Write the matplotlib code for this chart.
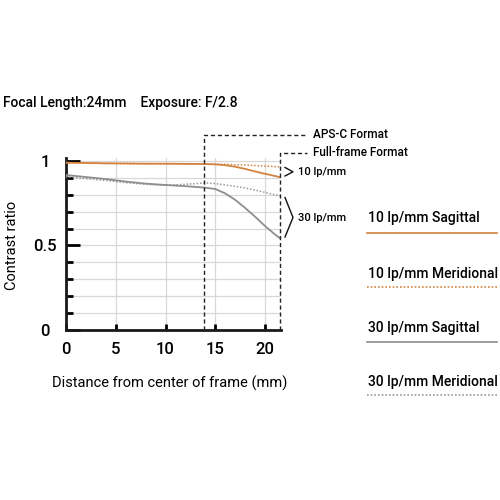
import numpy as np
import matplotlib
matplotlib.use("Agg")
import matplotlib.pyplot as plt
from matplotlib.lines import Line2D

plt.rcParams['font.family'] = ['Roboto', 'DejaVu Sans']
plt.rcParams['font.weight'] = 'medium'

# MTF curves (distance from center in mm)
dist = [0, 2, 4, 6, 8, 10, 12, 14, 15, 16, 17, 18, 19, 20, 21, 21.5]
s10 = [0.990, 0.988, 0.986, 0.985, 0.984, 0.984, 0.983, 0.982, 0.980, 0.975, 0.966, 0.953, 0.938, 0.924, 0.911, 0.904]
m10 = [0.990, 0.988, 0.986, 0.985, 0.984, 0.983, 0.983, 0.982, 0.981, 0.980, 0.978, 0.976, 0.973, 0.970, 0.967, 0.966]
s30 = [0.917, 0.905, 0.893, 0.878, 0.866, 0.858, 0.851, 0.842, 0.834, 0.808, 0.770, 0.722, 0.670, 0.615, 0.565, 0.543]
m30 = [0.907, 0.895, 0.885, 0.872, 0.862, 0.856, 0.862, 0.870, 0.866, 0.858, 0.850, 0.840, 0.828, 0.814, 0.800, 0.793]

aps_c = 13.9
full_frame = 21.5
legend_labels = ['10 lp/mm Sagittal', '10 lp/mm Meridional', '30 lp/mm Sagittal', '30 lp/mm Meridional']

orange = '#D3823F'
gray = '#8E8E8E'
lgray = '#9A9A9A'

fig = plt.figure(figsize=(5, 5), dpi=100)
ax = fig.add_axes([66 / 500, 1 - 330 / 500, 215 / 500, 172.4 / 500])
ax.set_xlim(0, 21.6)
ax.set_ylim(0, 1.02)

ax.plot(dist, m30, color=lgray, lw=1.1, ls=(0, (1, 1.2)), zorder=3)
ax.plot(dist, s30, color=gray, lw=1.3, zorder=3)
ax.plot(dist, m10, color=orange, lw=1.1, ls=(0, (1, 1.2)), zorder=3)
ax.plot(dist, s10, color=orange, lw=1.3, zorder=3)

ax.set_xticks([0, 5, 10, 15, 20])
ax.set_yticks([0, 0.5, 1])
ax.set_yticklabels(['0', '0.5', '1'], ha='center')
ax.set_yticks(np.arange(0.1, 1.0, 0.1), minor=True)
ax.grid(True, which='both', color='#D8D8D8', lw=0.9)
ax.set_axisbelow(True)
ax.tick_params(axis='y', which='major', direction='in', length=10, width=2, pad=15, labelsize=12)
ax.tick_params(axis='y', which='minor', direction='in', length=5, width=2)
ax.tick_params(axis='x', direction='in', length=4.5, width=2, pad=9, labelsize=12)
for s in ['top', 'right']:
    ax.spines[s].set_visible(False)
for s in ['left', 'bottom']:
    ax.spines[s].set_linewidth(2)
    ax.spines[s].set_color('#1a1a1a')

ax.set_xlabel('Distance from center of frame (mm)', fontsize=10.5)
ax.xaxis.set_label_coords(0.48, -(383 - 330) / 172.4)
ax.xaxis.label.set_va('center')
ax.set_ylabel('Contrast ratio', fontsize=10.5)
ax.yaxis.set_label_coords(-(66 - 12) / 215, (330 - 245) / 172.4)
ax.yaxis.label.set_va('center')

# format boxes
ax.plot([aps_c, aps_c, 24.2], [0, 1.154, 1.154], color='#222222', lw=1, ls=(0, (3, 2)), clip_on=False, zorder=4)
ax.plot([full_frame, full_frame, 24.2], [0, 1.047, 1.047], color='#222222', lw=1, ls=(0, (3, 2)), clip_on=False, zorder=4)
fig.text(313 / 500, 1 - 135 / 500, 'APS-C Format', fontsize=8.5, va='center', ha='left')
fig.text(313 / 500, 1 - 153 / 500, 'Full-frame Format', fontsize=8.5, va='center', ha='left')

# brackets
fig.add_artist(Line2D([285 / 500, 293 / 500, 285 / 500], [1 - 167.5 / 500, 1 - 171.8 / 500, 1 - 176 / 500],
                      color='#111111', lw=1))
fig.text(298 / 500, 1 - 172 / 500, '10 lp/mm', fontsize=8, va='center', ha='left')
fig.add_artist(Line2D([285 / 500, 293 / 500, 285 / 500], [1 - 197.5 / 500, 1 - 217.5 / 500, 1 - 237 / 500],
                      color='#111111', lw=1))
fig.text(298 / 500, 1 - 218 / 500, '30 lp/mm', fontsize=8, va='center', ha='left')

# title
fig.text(3 / 500, 1 - 103 / 500, 'Focal Length:24mm    Exposure: F/2.8', fontsize=10, va='center', ha='left')

# legend
text_y = [218, 274, 328, 382]
line_y = [233, 287, 342, 395]
styles = [(orange, '-'), (orange, (0, (1, 1.2))), (gray, '-'), (lgray, (0, (1, 1.2)))]
for lab, ty, ly, (c, ls) in zip(legend_labels, text_y, line_y, styles):
    fig.text(368 / 500, 1 - ty / 500, lab, fontsize=10, va='center', ha='left')
    fig.add_artist(Line2D([367 / 500, 497 / 500], [1 - ly / 500, 1 - ly / 500], color=c, lw=1.2, ls=ls))

fig.savefig('out.png', dpi=100)
